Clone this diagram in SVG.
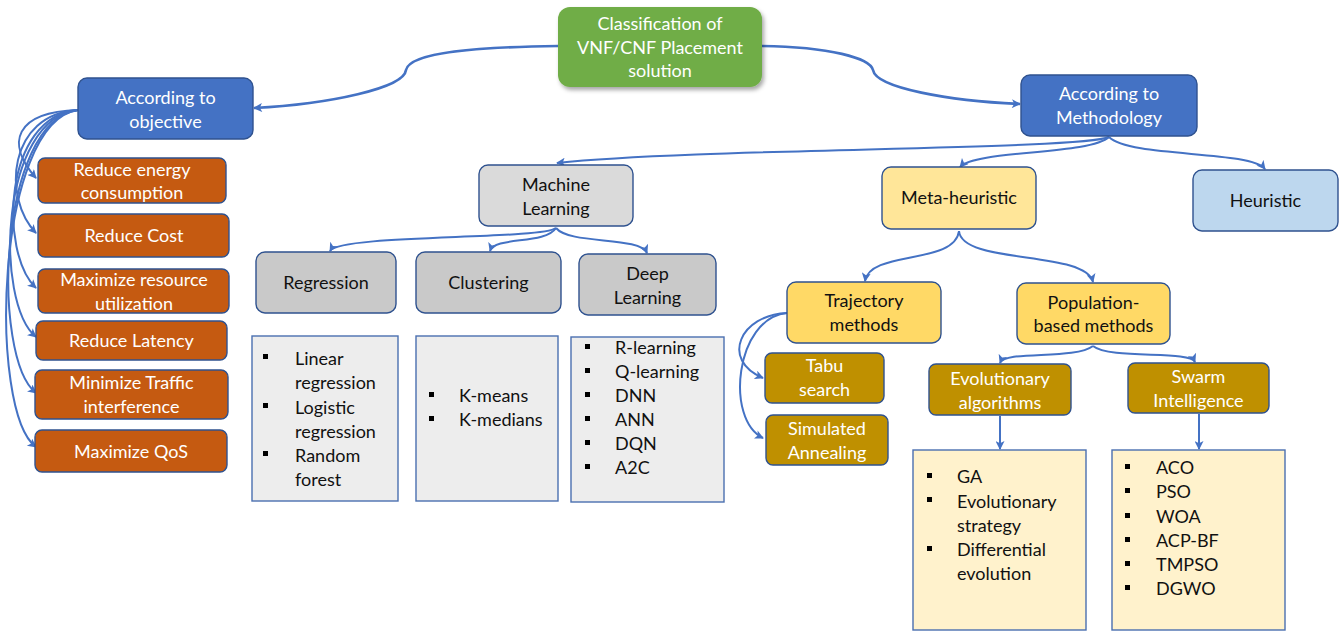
<svg xmlns="http://www.w3.org/2000/svg" width="1343" height="633" viewBox="0 0 1343 633">
  <defs>
    <marker id="arrow" viewBox="0 0 10 10" refX="9" refY="5" markerWidth="10" markerHeight="9" markerUnits="userSpaceOnUse" orient="auto">
      <path d="M0,0 L10,5 L0,10 L2.5,5 Z" fill="#4472C4"/>
    </marker>
    <filter id="shadow" x="-10%" y="-10%" width="125%" height="130%">
      <feDropShadow dx="2" dy="3" stdDeviation="2" flood-color="#000" flood-opacity="0.35"/>
    </filter>
  </defs>
  <style>
    text { font-family: Lato, "Open Sans", "Liberation Sans", sans-serif; font-size: 18px; }
    .c { text-anchor: middle; }
    .w { fill: #ffffff; }
    .k { fill: #111111; }
    .node { stroke: #2F528F; stroke-width: 1.4; }
    .root { fill: #70AD47; }
    .blue { fill: #4472C4; }
    .orange { fill: #C55A11; }
    .ml { fill: #DADADA; }
    .grey { fill: #C9C9C9; }
    .list { fill: #EDEDED; stroke: #4A6FB0; stroke-width: 1.4; }
    .ylist { fill: #FFF2CC; stroke: #4A6FB0; stroke-width: 1.4; }
    .meta { fill: #FFE699; }
    .gold { fill: #FFD966; }
    .dark { fill: #BF9000; }
    .heur { fill: #BDD7EE; }
    .bul { fill: #000; }
    .edge { fill: none; stroke: #4472C4; stroke-width: 2; marker-end: url(#arrow); }
    .edge.thick { stroke-width: 2.6; }
  </style>

  <!-- connectors -->
  <g id="connectors">
    <path class="edge thick" d="M558,46 C480,47 410,52 406,70 C404,88 330,104 254,108"/>
    <path class="edge thick" d="M762,46 C830,47 870,58 873,70 C876,88 950,101 1020,104"/>
    <!-- objective fan-out -->
    <path class="edge" d="M78,110 C15,112 5,143 36,178"/>
    <path class="edge" d="M78,110 C8,114 2,198 36,233"/>
    <path class="edge" d="M78,110 C3,116 -1,253 36,288"/>
    <path class="edge" d="M78,110 C0,118 -6,302 36,337"/>
    <path class="edge" d="M78,110 C-2,120 -9,358 36,393"/>
    <path class="edge" d="M78,110 C-5,122 -12,412 36,447"/>
    <!-- methodology -->
    <path class="edge" d="M1109,137 C1080,150 700,148 557,163"/>
    <path class="edge" d="M1109,137 C1090,155 975,150 960,167"/>
    <path class="edge" d="M1109,137 C1130,158 1250,150 1265,169"/>
    <!-- machine learning -->
    <path class="edge" d="M556,228 C540,240 340,234 330,251"/>
    <path class="edge" d="M556,228 C545,245 495,236 490,251"/>
    <path class="edge" d="M556,228 C570,245 640,236 647,253"/>
    <!-- meta-heuristic -->
    <path class="edge" d="M959,231 C955,265 870,250 865,281"/>
    <path class="edge" d="M959,231 C962,265 1085,250 1093,282"/>
    <!-- trajectory -->
    <path class="edge" d="M787,313 C740,315 720,360 763,378"/>
    <path class="edge" d="M787,313 C735,318 725,420 763,438"/>
    <!-- population-based -->
    <path class="edge" d="M1093,346 C1075,360 1005,350 1000,363"/>
    <path class="edge" d="M1093,346 C1110,360 1190,350 1195,362"/>
    <path class="edge" d="M1000,416 L1000,449"/>
    <path class="edge" d="M1199,414 L1199,449"/>
  </g>

  <!-- root -->
  <g id="root">
    <rect x="558" y="7" width="204" height="80" rx="12" class="root" filter="url(#shadow)"/>
    <text x="660" y="30" class="c w">Classification of</text>
    <text x="660" y="54" class="c w">VNF/CNF Placement</text>
    <text x="660" y="77" class="c w">solution</text>
  </g>

  <g id="objective">
    <rect x="78" y="78" width="175" height="61" rx="9" class="node blue"/>
    <text x="165.5" y="104" class="c w">According to</text>
    <text x="165.5" y="128" class="c w">objective</text>
  </g>

  <g id="methodology">
    <rect x="1021" y="75" width="176" height="61" rx="9" class="node blue"/>
    <text x="1109" y="100" class="c w">According to</text>
    <text x="1109" y="124" class="c w">Methodology</text>
  </g>

  <!-- objectives -->
  <g id="obj-energy">
    <rect x="38" y="158" width="188" height="45" rx="7" class="node orange"/>
    <text x="132" y="176" class="c w">Reduce energy</text>
    <text x="132" y="199" class="c w">consumption</text>
  </g>
  <g id="obj-cost">
    <rect x="38" y="214" width="191" height="43" rx="7" class="node orange"/>
    <text x="134" y="242" class="c w">Reduce Cost</text>
  </g>
  <g id="obj-resource">
    <rect x="38" y="269" width="191" height="44" rx="7" class="node orange"/>
    <text x="134" y="286" class="c w">Maximize resource</text>
    <text x="134" y="310" class="c w">utilization</text>
  </g>
  <g id="obj-latency">
    <rect x="36" y="321" width="191" height="39" rx="7" class="node orange"/>
    <text x="131.5" y="347" class="c w">Reduce Latency</text>
  </g>
  <g id="obj-traffic">
    <rect x="35" y="370" width="193" height="49" rx="7" class="node orange"/>
    <text x="131.5" y="389" class="c w">Minimize Traffic</text>
    <text x="131.5" y="413" class="c w">interference</text>
  </g>
  <g id="obj-qos">
    <rect x="35" y="430" width="192" height="42" rx="7" class="node orange"/>
    <text x="131" y="458" class="c w">Maximize QoS</text>
  </g>

  <!-- machine learning branch -->
  <g id="machine-learning">
    <rect x="479" y="165" width="154" height="61" rx="9" class="node ml"/>
    <text x="556" y="191" class="c k">Machine</text>
    <text x="556" y="215" class="c k">Learning</text>
  </g>
  <g id="regression">
    <rect x="256" y="252" width="140" height="61" rx="9" class="node grey"/>
    <text x="326" y="289" class="c k">Regression</text>
  </g>
  <g id="clustering">
    <rect x="416" y="252" width="145" height="61" rx="9" class="node grey"/>
    <text x="488.5" y="289" class="c k">Clustering</text>
  </g>
  <g id="deep-learning">
    <rect x="579" y="254" width="137" height="61" rx="9" class="node grey"/>
    <text x="647.5" y="280" class="c k">Deep</text>
    <text x="647.5" y="304" class="c k">Learning</text>
  </g>

  <g id="regression-list">
    <rect x="252" y="336" width="146" height="165" class="list"/>
    <rect x="263" y="354" width="5" height="5" class="bul"/>
    <rect x="263" y="403" width="5" height="5" class="bul"/>
    <rect x="263" y="451" width="5" height="5" class="bul"/>
    <text x="295" y="365" class="k">Linear</text>
    <text x="295" y="389" class="k">regression</text>
    <text x="295" y="414" class="k">Logistic</text>
    <text x="295" y="438" class="k">regression</text>
    <text x="295" y="462" class="k">Random</text>
    <text x="295" y="486" class="k">forest</text>
  </g>
  <g id="clustering-list">
    <rect x="416" y="336" width="142" height="165" class="list"/>
    <rect x="429" y="392" width="5" height="5" class="bul"/>
    <rect x="429" y="416" width="5" height="5" class="bul"/>
    <text x="459" y="402" class="k">K-means</text>
    <text x="459" y="426" class="k">K-medians</text>
  </g>
  <g id="deep-learning-list">
    <rect x="571" y="337" width="153" height="165" class="list"/>
    <rect x="585" y="344" width="5" height="5" class="bul"/>
    <rect x="585" y="368" width="5" height="5" class="bul"/>
    <rect x="585" y="392" width="5" height="5" class="bul"/>
    <rect x="585" y="416" width="5" height="5" class="bul"/>
    <rect x="585" y="440" width="5" height="5" class="bul"/>
    <rect x="585" y="464" width="5" height="5" class="bul"/>
    <text x="615" y="354" class="k">R-learning</text>
    <text x="615" y="378" class="k">Q-learning</text>
    <text x="615" y="402" class="k">DNN</text>
    <text x="615" y="426" class="k">ANN</text>
    <text x="615" y="450" class="k">DQN</text>
    <text x="615" y="474" class="k">A2C</text>
  </g>

  <!-- meta-heuristic branch -->
  <g id="meta-heuristic">
    <rect x="882" y="167" width="154" height="62" rx="9" class="node meta"/>
    <text x="959" y="204" class="c k">Meta-heuristic</text>
  </g>
  <g id="heuristic">
    <rect x="1193" y="170" width="145" height="61" rx="9" class="node heur"/>
    <text x="1265.5" y="207" class="c k">Heuristic</text>
  </g>
  <g id="trajectory">
    <rect x="787" y="282" width="154" height="61" rx="9" class="node gold"/>
    <text x="864" y="307" class="c k">Trajectory</text>
    <text x="864" y="331" class="c k">methods</text>
  </g>
  <g id="population">
    <rect x="1017" y="283" width="153" height="61" rx="9" class="node gold"/>
    <text x="1093.5" y="309" class="c k">Population-</text>
    <text x="1093.5" y="332" class="c k">based methods</text>
  </g>
  <g id="tabu">
    <rect x="765" y="353" width="119" height="50" rx="7" class="node dark"/>
    <text x="824.5" y="372" class="c w">Tabu</text>
    <text x="824.5" y="396" class="c w">search</text>
  </g>
  <g id="annealing">
    <rect x="766" y="415" width="122" height="50" rx="7" class="node dark"/>
    <text x="827" y="435" class="c w">Simulated</text>
    <text x="827" y="459" class="c w">Annealing</text>
  </g>
  <g id="evolutionary">
    <rect x="929" y="364" width="142" height="51" rx="7" class="node dark"/>
    <text x="1000" y="385" class="c w">Evolutionary</text>
    <text x="1000" y="409" class="c w">algorithms</text>
  </g>
  <g id="swarm">
    <rect x="1128" y="363" width="141" height="50" rx="7" class="node dark"/>
    <text x="1198.5" y="383" class="c w">Swarm</text>
    <text x="1198.5" y="407" class="c w">Intelligence</text>
  </g>

  <g id="evolutionary-list">
    <rect x="913" y="450" width="173" height="180" class="ylist"/>
    <rect x="927" y="473" width="5" height="5" class="bul"/>
    <rect x="927" y="497" width="5" height="5" class="bul"/>
    <rect x="927" y="546" width="5" height="5" class="bul"/>
    <text x="957" y="483" class="k">GA</text>
    <text x="957" y="508" class="k">Evolutionary</text>
    <text x="957" y="532" class="k">strategy</text>
    <text x="957" y="556" class="k">Differential</text>
    <text x="957" y="580" class="k">evolution</text>
  </g>
  <g id="swarm-list">
    <rect x="1112" y="450" width="173" height="180" class="ylist"/>
    <rect x="1125" y="464" width="5" height="5" class="bul"/>
    <rect x="1125" y="488" width="5" height="5" class="bul"/>
    <rect x="1125" y="513" width="5" height="5" class="bul"/>
    <rect x="1125" y="537" width="5" height="5" class="bul"/>
    <rect x="1125" y="561" width="5" height="5" class="bul"/>
    <rect x="1125" y="585" width="5" height="5" class="bul"/>
    <text x="1156" y="474" class="k">ACO</text>
    <text x="1156" y="498" class="k">PSO</text>
    <text x="1156" y="523" class="k">WOA</text>
    <text x="1156" y="547" class="k">ACP-BF</text>
    <text x="1156" y="571" class="k">TMPSO</text>
    <text x="1156" y="595" class="k">DGWO</text>
  </g>
</svg>
